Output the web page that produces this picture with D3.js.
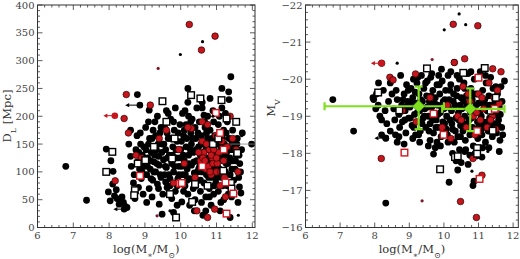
<!DOCTYPE html>
<html>
<head>
<meta charset="utf-8">
<script src="https://cdn.jsdelivr.net/npm/d3@7"></script>
<style>
  body { margin: 0; background: #fff; }
  svg { display: block; }
  .tick-label { font-family: "DejaVu Serif", "Liberation Serif", serif; font-size: 10px; fill: #444; }
  .axis-title { font-family: "DejaVu Serif", "Liberation Serif", serif; font-size: 11.5px; fill: #333; }
</style>
</head>
<body>
<svg width="520" height="259"></svg>
<script>
// ---- data: [log(M*/Msun), value] pairs ----

// left panel: luminosity distance D_L [Mpc]
const dlBlack = [
  [6.79,110],[7.37,49],[7.92,141],[7.98,64],[8.03,48],[8.11,101],[8.05,120],[8.1,78],[8.15,57],[8.22,52],
  [8.3,50],[8.36,55],[8.4,45],[8.28,42],[8.45,38],[8.5,36],[8.2,68],[8.79,239],[9.12,211],[10.2,250],
  [11.15,250],[11.34,244],[11.4,271],[10.65,202],
  [8.55,150],[8.6,128],[8.62,110],[8.7,95],[8.75,140],[8.78,165],[8.8,118],[8.85,105],[8.68,80],[8.72,52],
  [8.82,72],[8.9,88],[8.93,130],[8.88,150],[8.95,60],[8.98,110],[8.6,175],
  [8.83,135],[8.97,145],[8.92,100],[8.87,170],
  [9.02,180],[9.05,95],[9.08,125],[9.1,150],[9.12,70],[9.15,105],[9.18,135],[9.2,160],[9.22,85],[9.25,118],
  [9.28,190],[9.3,100],[9.32,140],[9.35,78],[9.38,128],[9.4,112],[9.42,170],[9.45,90],[9.48,150],[9.5,60],
  [9.05,45],[9.2,55],[9.4,42],[9.35,200],[9.1,190],[9.48,24],
  [9.03,140],[9.07,110],[9.13,160],[9.17,88],[9.23,175],[9.27,130],[9.33,115],[9.37,150],[9.43,95],[9.47,135],
  [9.15,120],[9.25,100],[9.45,180],[9.3,165],[9.38,70],
  [9.52,122],[9.55,180],[9.55,95],[9.58,140],[9.6,108],[9.62,72],[9.65,160],[9.68,130],[9.7,88],[9.72,195],
  [9.75,115],[9.78,145],[9.8,100],[9.8,27],[9.82,175],[9.85,65],[9.88,125],[9.9,155],[9.92,88],[9.95,110],
  [9.98,185],[9.6,210],[9.75,52],[9.9,40],[9.65,205],[9.85,215],
  [9.53,150],[9.57,110],[9.63,125],[9.67,95],[9.73,160],[9.77,130],[9.83,110],[9.87,140],[9.93,170],[9.97,125],
  [9.62,170],[9.7,75],[9.9,75],[9.58,82],[9.8,190],[9.95,95],
  [10.0,140],[10.03,46],[10.05,95],[10.05,205],[10.08,165],[10.1,120],[10.12,75],[10.15,185],[10.15,145],[10.18,105],
  [10.2,60],[10.2,225],[10.22,130],[10.25,88],[10.28,170],[10.3,150],[10.3,112],[10.32,195],[10.35,70],[10.35,135],
  [10.38,98],[10.4,180],[10.4,50],[10.42,160],[10.45,120],[10.45,215],[10.48,85],[10.5,145],[10.5,105],[10.12,210],
  [10.25,40],[10.38,30],
  [10.02,155],[10.07,130],[10.1,175],[10.13,95],[10.17,160],[10.23,115],[10.27,140],[10.33,160],[10.37,118],[10.43,140],
  [10.47,100],[10.03,110],[10.18,85],[10.28,190],[10.42,75],[10.08,65],[10.22,200],[10.48,170],
  [10.52,190],[10.55,65],[10.55,130],[10.58,165],[10.6,100],[10.6,225],[10.62,22],[10.63,150],[10.65,80],[10.65,118],
  [10.68,180],[10.7,55],[10.7,140],[10.72,95],[10.75,200],[10.75,160],[10.78,125],[10.8,70],[10.8,108],[10.82,175],
  [10.85,145],[10.85,40],[10.88,90],[10.9,130],[10.9,210],[10.92,60],[10.95,115],[10.95,165],[10.98,100],[10.98,80],
  [10.6,215],[10.7,30],[10.82,232],[10.92,190],
  [10.53,110],[10.57,150],[10.62,135],[10.67,100],[10.72,170],[10.77,140],[10.83,120],[10.87,160],[10.93,145],[10.97,130],
  [10.55,85],[10.67,190],[10.78,90],[10.88,110],[10.58,45],[10.8,55],[10.93,75],
  [11.0,150],[11.02,125],[11.05,185],[11.05,65],[11.08,105],[11.1,30],[11.1,165],[11.12,140],[11.15,90],[11.15,215],
  [11.18,120],[11.2,50],[11.2,175],[11.22,150],[11.25,100],[11.28,135],[11.3,75],[11.3,190],[11.32,115],[11.35,160],
  [11.38,18],[11.38,95],[11.4,140],[11.42,55],[11.45,175],[11.45,120],[11.48,85],[11.5,150],[11.25,205],[11.12,45],
  [11.35,230],
  [11.03,110],[11.07,150],[11.13,125],[11.17,160],[11.23,130],[11.27,115],[11.33,145],[11.37,125],[11.43,105],[11.47,140],
  [11.03,90],[11.17,75],[11.27,170],[11.43,155],[11.53,120],[11.57,150],[11.63,130],[11.67,100],[11.08,200],[11.33,60],
  [11.52,105],[11.55,130],[11.58,160],[11.6,45],[11.62,90],[11.64,73],[11.65,115],[11.7,140],[11.72,170],[11.68,62],
  [11.98,150]
];
const dlRed = [
  [10.24,365],[10.96,344],[10.58,319],[8.48,239],[9.15,220],[8.42,196],[11.38,200],[8.54,170],[8.17,84],[8.75,130],
  [8.9,125],[9.4,160],[9.8,80],[9.95,140],[10.1,115],[10.3,178],[10.4,90],[10.45,30],[10.55,120],[10.6,155],
  [10.65,135],[10.7,105],[10.75,185],[10.78,110],[10.8,140],[10.85,95],[10.88,125],[10.9,115],[10.95,33],[10.75,18],
  [11.0,100],[11.05,135],[11.1,75],[11.15,155],[11.2,120],[11.25,55],[11.3,145],[11.45,160],[11.55,140],[11.6,100],
  [10.98,165],[10.6,190],[9.6,175],[10.2,180],
  [10.62,125],[10.72,150],[10.82,100],[10.92,140],[11.02,115],[11.12,100],[10.68,120],[10.85,130],[11.0,125],[11.22,90],
  [10.5,135],[10.9,150]
];
const dlSquare = [
  [10.29,238],[10.55,232],[9.49,227],[11.14,229],[11.28,196],[7.92,100],[8.09,136],[8.72,67],[8.7,58],[9.87,18],
  [10.32,46],[11.19,102],[11.4,80],[11.42,70],[11.58,134],[9.83,160],[9.25,145],[9.01,121],[9.76,124],[8.8,115],
  [9.7,60],[10.9,150],[11.05,160],[10.4,78],[9.6,190],[10.75,75],[11.55,190]
];
const dlRedSquare = [
  [10.98,206],[8.86,93],[9.98,79],[10.03,80],[11.25,81],[11.47,61],[11.28,25],[10.6,110],[11.2,140],[11.1,170]
];
const dlSmall = [[10.61,334],[9.99,311],[11.61,22],[10.9,200],[9.7,30],[11.7,165]];
const dlSmallRed = [[9.37,286],[9.34,21]];
// upper limits in mass: [mass, value, arrow tip mass, colour class]
const dlArrows = [[8.86,220,8.45,"black"],[8.42,33,8.12,"black"],[8.16,201,7.84,"red"]];

// right panel: absolute magnitude M_V
const mvBlack = [
  [6.79,-19.45],[7.39,-18.6],[8.32,-16.66],[10.15,-17.22],[10.84,-17.13],[10.87,-17.25],[9.93,-20.27],[11.75,-19.95],[8.11,-19.9],[7.97,-19.45],
  [8.03,-19.2],[8.32,-18.41],
  [7.95,-19.5],[8.05,-19.6],[8.1,-19.3],[8.15,-19.0],[8.2,-18.9],[8.25,-19.7],[8.3,-19.15],[8.35,-18.8],
  [8.4,-19.4],[8.45,-18.6],[8.5,-19.6],[8.45,-19.9],[8.6,-18.5],[8.7,-18.45],[8.2,-18.5],
  [8.55,-19.2],[8.58,-18.9],[8.62,-19.7],[8.65,-19.45],[8.7,-19.05],[8.72,-18.7],[8.75,-20.1],[8.78,-19.3],[8.8,-18.85],
  [8.85,-19.6],[8.88,-19.15],[8.9,-18.55],[8.92,-19.85],[8.95,-19.4],[8.98,-18.95],[8.65,-18.3],[8.85,-18.25],
  [8.82,-19.45],[8.87,-18.9],[8.93,-19.25],[8.97,-19.7],
  [9.02,-19.25],[9.05,-19.75],[9.08,-18.75],[9.1,-19.5],[9.12,-20.0],[9.15,-19.05],[9.18,-18.5],[9.2,-19.35],[9.22,-19.9],[9.25,-18.85],
  [9.28,-19.6],[9.3,-19.15],[9.32,-18.6],[9.35,-20.1],[9.38,-19.4],[9.4,-18.95],[9.42,-19.75],[9.45,-19.2],[9.48,-18.7],[9.5,-19.55],
  [9.3,-18.3],[9.1,-18.4],[9.55,-18.2],
  [9.03,-18.95],[9.07,-19.4],[9.13,-18.7],[9.17,-19.65],[9.23,-19.1],[9.27,-18.5],[9.33,-19.45],[9.37,-18.8],[9.43,-19.0],[9.47,-19.9],
  [9.25,-20.05],
  [9.52,-19.95],[9.55,-19.0],[9.58,-19.4],[9.6,-18.8],[9.62,-20.05],[9.65,-19.25],[9.68,-19.7],[9.7,-18.55],[9.72,-19.05],[9.75,-19.5],
  [9.78,-18.9],[9.8,-19.85],[9.82,-19.3],[9.85,-18.7],[9.88,-19.6],[9.9,-19.1],[9.92,-18.45],[9.95,-19.95],[9.98,-19.4],[9.7,-17.98],
  [9.75,-18.15],[9.8,-18.3],[9.6,-18.35],[9.9,-18.2],
  [9.53,-19.25],[9.57,-18.6],[9.63,-19.55],[9.67,-18.9],[9.73,-19.35],[9.77,-18.7],[9.83,-19.05],[9.87,-19.85],[9.93,-19.25],[9.97,-18.85],
  [9.65,-20.15],[9.85,-20.1],
  [10.0,-19.2],[10.02,-18.8],[10.05,-19.7],[10.08,-19.0],[10.1,-18.5],[10.12,-20.1],[10.15,-19.45],[10.18,-18.9],[10.2,-19.85],[10.22,-19.15],
  [10.25,-18.65],[10.28,-19.6],[10.3,-18.3],[10.32,-19.3],[10.35,-18.95],[10.38,-19.75],[10.4,-18.45],[10.42,-19.1],[10.45,-20.0],[10.48,-18.75],
  [10.5,-19.5],[10.3,-20.45],[10.35,-17.8],[10.45,-18.1],[10.25,-18.0],[10.4,-17.55],[10.5,-17.75],
  [10.03,-19.45],[10.07,-18.65],[10.13,-19.25],[10.17,-19.7],[10.23,-18.8],[10.27,-19.4],[10.33,-18.6],[10.37,-19.55],[10.43,-18.9],[10.47,-19.3],
  [10.12,-18.3],[10.38,-20.1],[10.2,-20.2],[10.48,-18.45],
  [10.52,-19.2],[10.55,-18.6],[10.58,-19.9],[10.6,-19.0],[10.62,-18.35],[10.65,-19.55],[10.68,-18.8],[10.7,-20.15],[10.72,-19.3],[10.75,-18.5],
  [10.78,-19.75],[10.8,-18.95],[10.82,-19.45],[10.85,-18.2],[10.88,-20.0],[10.9,-19.1],[10.92,-18.65],[10.95,-19.6],[10.98,-18.4],[10.94,-17.93],
  [10.75,-17.95],[10.7,-17.7],[10.6,-18.05],
  [10.53,-18.85],[10.57,-19.4],[10.63,-18.75],[10.67,-19.3],[10.73,-18.9],[10.77,-19.1],[10.83,-18.7],[10.87,-19.6],[10.93,-19.3],[10.97,-18.85],
  [10.6,-19.75],[10.78,-20.2],[10.9,-18.0],[10.63,-18.1],
  [11.0,-19.35],[11.02,-18.75],[11.05,-20.2],[11.08,-19.0],[11.1,-18.5],[11.12,-19.7],[11.15,-18.85],[11.18,-19.45],[11.2,-18.3],[11.22,-19.9],
  [11.25,-19.15],[11.28,-18.6],[11.3,-19.55],[11.32,-18.95],[11.35,-20.05],[11.38,-19.25],[11.4,-18.45],[11.42,-19.75],[11.45,-18.8],[11.48,-19.4],
  [11.1,-17.9],[11.3,-18.15],
  [11.03,-19.1],[11.07,-18.6],[11.13,-19.35],[11.17,-18.7],[11.23,-19.3],[11.27,-18.85],[11.33,-19.3],[11.37,-18.7],[11.43,-19.1],[11.47,-18.55],
  [11.53,-19.3],[11.57,-18.75],[11.63,-19.05],[11.67,-18.7],[11.2,-20.1],[11.5,-19.8],[11.12,-18.15],
  [11.5,-19.05],[11.52,-18.55],[11.55,-19.6],[11.58,-18.9],[11.6,-19.25],[11.62,-18.35],[11.65,-19.8],[11.6,-18.05],[11.7,-18.5],[11.68,-19.4]
];
const mvRed = [
  [10.27,-21.48],[10.98,-21.44],[8.2,-20.43],[10.3,-20.45],[10.6,-20.55],[11.41,-20.28],[9.18,-20.14],[8.44,-20.05],[8.53,-19.98],[8.19,-17.86],
  [10.48,-16.7],[10.94,-16.27],[11.1,-17.41],[10.84,-17.86],[9.6,-19.5],[9.95,-18.7],[10.1,-19.3],[10.4,-19.0],[10.55,-19.8],[10.65,-18.7],
  [10.75,-19.4],[10.85,-19.0],[10.9,-18.5],[11.0,-19.6],[11.05,-18.9],[11.15,-19.2],[11.25,-18.7],[11.3,-19.9],[11.4,-19.0],[11.5,-18.65],
  [11.55,-19.7],[8.8,-19.15],[9.2,-18.85],[10.2,-18.4],[11.45,-19.5],[11.65,-20.2],
  [10.7,-19.6],[10.95,-19.1],[11.1,-19.5],[11.35,-18.9],[10.5,-18.9],[11.6,-19.35]
];
const mvSquare = [
  [9.51,-20.29],[10.56,-20.17],[11.18,-20.3],[8.1,-19.64],[9.89,-17.57],[10.32,-17.9],[10.96,-18.14],[10.96,-17.99],[11.41,-18.61],[10.4,-17.92],
  [11.5,-19.5],[8.71,-19.16],[11.35,-19.15]
];
const mvRedSquare = [[11.0,-20.04],[8.86,-18.02],[11.03,-17.31],[9.99,-18.5],[9.7,-19.07],[11.47,-19.2],[10.96,-18.6]];
const mvSmall = [[10.44,-21.76],[10.63,-21.47],[10.01,-21.33],[8.65,-20.43],[11.27,-18.05],[10.81,-17.52]];
const mvSmallRed = [[9.66,-20.53],[9.37,-16.72]];
const mvArrows = [[8.32,-18.41,7.99,"black"],[8.2,-20.43,7.89,"red"]];

// binned medians in the M_V panel: mass, M_V, mass range, M_V range
const binMass = [9.27, 10.76];
const binMv = [-19.27, -19.2];
const binMassRange = [[6.55, 10.0], [9.95, 11.75]];
const binMvRange = [[-19.8, -18.65], [-19.75, -18.6]];

// axis domains
const dlMassDomain = [6, 12.075];
const mvMassDomain = [6, 12.15];
const dlDomain = [0, 400];
const mvDomain = [-22, -16];

// ---- layout ----
const svg = d3.select("svg");
const plotTop = 5, plotBottom = 227.5;
const redFill = "#c4161c";

function drawPanel(left, right, xDomain, yDomain, yRange, yMajor, yMinor, yTitleParts, yTitleX, yTitleY) {
  const x = d3.scaleLinear().domain(xDomain).range([left, right]);
  const y = d3.scaleLinear().domain(yDomain).range(yRange);
  const g = svg.append("g");

  // inward ticks on all four sides
  const xMaj = d3.range(6, 12.01, 1);
  const xMin = d3.range(6, xDomain[1], 0.2).filter(v => Math.abs(v - Math.round(v)) > 0.01);
  const yLo = Math.min(...yDomain), yHi = Math.max(...yDomain);
  const yMaj = d3.range(yLo, yHi + 1e-6, yMajor);
  const yMin = d3.range(yLo, yHi + 1e-6, yMinor).filter(v => Math.abs(v / yMajor - Math.round(v / yMajor)) > 0.01);

  const ticks = g.append("g").attr("stroke", "#333").attr("stroke-width", 0.8);
  [[xMaj, 5], [xMin, 2.5]].forEach(([vals, len]) => {
    vals.forEach(v => {
      ticks.append("line").attr("x1", x(v)).attr("x2", x(v)).attr("y1", plotBottom).attr("y2", plotBottom - len);
      ticks.append("line").attr("x1", x(v)).attr("x2", x(v)).attr("y1", plotTop).attr("y2", plotTop + len);
    });
  });
  [[yMaj, 5], [yMin, 2.5]].forEach(([vals, len]) => {
    vals.forEach(v => {
      ticks.append("line").attr("y1", y(v)).attr("y2", y(v)).attr("x1", left).attr("x2", left + len);
      ticks.append("line").attr("y1", y(v)).attr("y2", y(v)).attr("x1", right).attr("x2", right - len);
    });
  });

  // frame
  g.append("rect")
    .attr("x", left).attr("y", plotTop)
    .attr("width", right - left).attr("height", plotBottom - plotTop)
    .attr("fill", "none").attr("stroke", "#333").attr("stroke-width", 1);

  // tick labels
  g.selectAll(".xl").data(xMaj).enter().append("text")
    .attr("class", "tick-label")
    .attr("x", d => x(d)).attr("y", plotBottom + 11)
    .attr("text-anchor", "middle")
    .text(d => d);
  g.selectAll(".yl").data(yMaj).enter().append("text")
    .attr("class", "tick-label")
    .attr("x", left - 3).attr("y", d => y(d) + 3.5)
    .attr("text-anchor", "end")
    .text(d => d < 0 ? "\u2212" + Math.abs(d) : d);

  // x title: log(M*/M_sun)
  const xt = g.append("text").attr("class", "axis-title")
    .attr("x", (left + right) / 2).attr("y", 253).attr("text-anchor", "middle");
  xt.append("tspan").text("log(M");
  xt.append("tspan").attr("baseline-shift", "sub").attr("font-size", "8px").text("\u2217");
  xt.append("tspan").text("/M");
  xt.append("tspan").attr("baseline-shift", "sub").attr("font-size", "8px").text("\u2299");
  xt.append("tspan").text(")");

  // y title
  const yt = g.append("text").attr("class", "axis-title")
    .attr("transform", `translate(${yTitleX},${yTitleY}) rotate(-90)`)
    .attr("text-anchor", "middle");
  yt.append("tspan").text(yTitleParts[0]);
  yt.append("tspan").attr("baseline-shift", "sub").attr("font-size", "8px").text(yTitleParts[1]);
  if (yTitleParts[2]) yt.append("tspan").text(yTitleParts[2]);

  return { g, x, y };
}

function drawPoints(p, black, red, squares, redSquares, small, smallRed, arrows) {
  const { g, x, y } = p;
  g.append("g").selectAll("circle").data(black).enter().append("circle")
    .attr("cx", d => x(d[0])).attr("cy", d => y(d[1])).attr("r", 3.4)
    .attr("fill", "#000");
  g.append("g").selectAll("circle").data(red).enter().append("circle")
    .attr("cx", d => x(d[0])).attr("cy", d => y(d[1])).attr("r", 3.3)
    .attr("fill", redFill).attr("stroke", "#300").attr("stroke-width", 0.7);
  g.append("g").selectAll("rect").data(squares).enter().append("rect")
    .attr("x", d => x(d[0]) - 3.3).attr("y", d => y(d[1]) - 3.3)
    .attr("width", 6.6).attr("height", 6.6)
    .attr("fill", "#fff").attr("stroke", "#000").attr("stroke-width", 1.4);
  g.append("g").selectAll("rect").data(redSquares).enter().append("rect")
    .attr("x", d => x(d[0]) - 3.3).attr("y", d => y(d[1]) - 3.3)
    .attr("width", 6.6).attr("height", 6.6)
    .attr("fill", "#fff").attr("stroke", "#d4141c").attr("stroke-width", 1.4);
  g.append("g").selectAll("circle").data(small).enter().append("circle")
    .attr("cx", d => x(d[0])).attr("cy", d => y(d[1])).attr("r", 1.6)
    .attr("fill", "#000");
  g.append("g").selectAll("circle").data(smallRed).enter().append("circle")
    .attr("cx", d => x(d[0])).attr("cy", d => y(d[1])).attr("r", 1.6)
    .attr("fill", "#7a1a2a");

  // leftward arrows (mass upper limits)
  const ag = g.append("g");
  arrows.forEach(d => {
    const col = d[3] === "red" ? redFill : "#000";
    const x0 = x(d[0]), x1 = x(d[2]), yy = y(d[1]);
    ag.append("line").attr("x1", x0).attr("x2", x1 + 3).attr("y1", yy).attr("y2", yy)
      .attr("stroke", col).attr("stroke-width", 1);
    ag.append("path").attr("d", `M${x1},${yy}L${x1 + 4},${yy - 2.2}L${x1 + 4},${yy + 2.2}Z`).attr("fill", col);
    ag.append("circle").attr("cx", x0).attr("cy", yy).attr("r", 3.3).attr("fill", col);
  });
}

// left panel: D_L
const pl = drawPanel(37.5, 255, dlMassDomain, dlDomain, [plotBottom, plotTop], 50, 10, ["D", "L", " [Mpc]"], 11, 116);
drawPoints(pl, dlBlack, dlRed, dlSquare, dlRedSquare, dlSmall, dlSmallRed, dlArrows);
// reference line at 150 Mpc on the right edge
pl.g.append("line")
  .attr("x1", pl.x(11.38)).attr("x2", pl.x(12.075))
  .attr("y1", pl.y(150)).attr("y2", pl.y(150))
  .attr("stroke", "#888").attr("stroke-width", 0.8);

// right panel: M_V
const pr = drawPanel(305.5, 518.3, mvMassDomain, mvDomain, [plotTop, plotBottom], 1, 0.2, ["M", "V"], 275, 108);
drawPoints(pr, mvBlack, mvRed, mvSquare, mvRedSquare, mvSmall, mvSmallRed, mvArrows);

// green binned points with error bars
const green = "#7ee01e";
const eg = pr.g.append("g").attr("stroke", green).attr("stroke-width", 2.2);
binMass.forEach((m, i) => {
  const cx = pr.x(m), cy = pr.y(binMv[i]);
  const xa = pr.x(binMassRange[i][0]), xb = pr.x(binMassRange[i][1]);
  const ya = pr.y(binMvRange[i][0]), yb = pr.y(binMvRange[i][1]);
  eg.append("line").attr("x1", xa).attr("x2", xb).attr("y1", cy).attr("y2", cy);
  eg.append("line").attr("x1", cx).attr("x2", cx).attr("y1", ya).attr("y2", yb);
  eg.append("line").attr("x1", xa).attr("x2", xa).attr("y1", cy - 4).attr("y2", cy + 4);
  eg.append("line").attr("x1", xb).attr("x2", xb).attr("y1", cy - 4).attr("y2", cy + 4);
  eg.append("line").attr("x1", cx - 4).attr("x2", cx + 4).attr("y1", ya).attr("y2", ya);
  eg.append("line").attr("x1", cx - 4).attr("x2", cx + 4).attr("y1", yb).attr("y2", yb);
  pr.g.append("path")
    .attr("d", `M${cx},${cy - 6.2}L${cx + 6.2},${cy}L${cx},${cy + 6.2}L${cx - 6.2},${cy}Z`)
    .attr("fill", green).attr("stroke", "#3a7a10").attr("stroke-width", 0.6);
});
</script>
</body>
</html>
